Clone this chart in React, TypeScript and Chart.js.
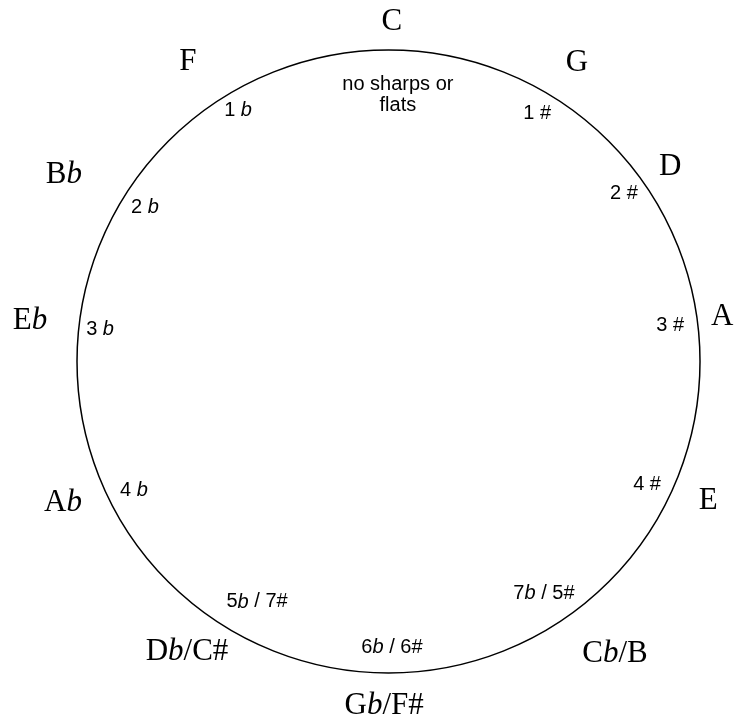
import React, { useEffect, useRef } from "react";
import { Chart, registerables } from "chart.js";

Chart.register(...registerables);

// Circle of fifths: unit circle, centre (0,0), radius 1
const CIRCLE_RADIUS = 1;

// Outer labels: key names (segments between * are italic)
const keyNames = ["C", "G", "D", "A", "E", "C*b*/B", "G*b*/F#", "D*b*/C#", "A*b*", "E*b*", "B*b*", "F"];
const keyX = [0.011, 0.605, 0.904, 1.071, 1.026, 0.727, -0.014, -0.647, -1.045, -1.151, -1.042, -0.644];
const keyY = [1.09, 0.958, 0.624, 0.143, -0.448, -0.939, -1.106, -0.933, -0.454, 0.13, 0.599, 0.961];

// Inner labels: number of sharps / flats
const accidentalLabels = [
  "no sharps or\nflats",
  "1 #",
  "2 #",
  "3 #",
  "4 #",
  "7*b* / 5#",
  "6*b* / 6#",
  "5*b* / 7#",
  "4 *b*",
  "3 *b*",
  "2 *b*",
  "1 *b*",
];
const accX = [0.03, 0.477, 0.756, 0.904, 0.83, 0.499, 0.011, -0.422, -0.817, -0.926, -0.782, -0.483];
const accY = [0.856, 0.795, 0.538, 0.117, -0.396, -0.746, -0.917, -0.772, -0.413, 0.104, 0.496, 0.807];

const SERIF = '"Liberation Serif", "Times New Roman", serif';
const SANS = '"Liberation Sans", Arial, sans-serif';

function drawRich(ctx: CanvasRenderingContext2D, text: string, cx: number, cy: number, size: number, family: string) {
  const lines = text.split("\n");
  const lh = size * 1.08;
  const startY = cy - ((lines.length - 1) * lh) / 2;
  lines.forEach((line, li) => {
    const segs = line.split("*");
    const fonts = segs.map((_, i) => (i % 2 === 1 ? `italic ${size}px ${family}` : `${size}px ${family}`));
    let total = 0;
    segs.forEach((s, i) => {
      ctx.font = fonts[i];
      total += ctx.measureText(s).width;
    });
    let x = cx - total / 2;
    const y = startY + li * lh;
    segs.forEach((s, i) => {
      ctx.font = fonts[i];
      ctx.fillText(s, x, y);
      x += ctx.measureText(s).width;
    });
  });
}

const circlePlugin = {
  id: "circleOfFifths",
  beforeDatasetsDraw(chart: any) {
    const { ctx, scales } = chart;
    const xs = scales.x;
    const ys = scales.y;
    const cx = xs.getPixelForValue(0);
    const cy = ys.getPixelForValue(0);
    const rx = xs.getPixelForValue(CIRCLE_RADIUS) - cx;
    const ry = cy - ys.getPixelForValue(CIRCLE_RADIUS);
    ctx.save();
    ctx.beginPath();
    ctx.ellipse(cx, cy, rx, ry, 0, 0, Math.PI * 2);
    ctx.lineWidth = 1.5;
    ctx.strokeStyle = "#000";
    ctx.stroke();
    ctx.restore();
  },
  afterDatasetsDraw(chart: any) {
    const { ctx } = chart;
    ctx.save();
    ctx.fillStyle = "#000";
    ctx.textAlign = "left";
    ctx.textBaseline = "middle";
    chart.data.datasets.forEach((ds: any, di: number) => {
      const meta = chart.getDatasetMeta(di);
      meta.data.forEach((pt: any, i: number) => {
        const label = ds.labelsText[i];
        drawRich(ctx, label, pt.x, pt.y, ds.fontSize, ds.fontFamily);
      });
    });
    ctx.restore();
  },
};

export default function App() {
  const canvasRef = useRef<HTMLCanvasElement | null>(null);

  useEffect(() => {
    if (!canvasRef.current) return;
    const chart = new Chart(canvasRef.current, {
      type: "scatter",
      data: {
        datasets: [
          {
            label: "keys",
            data: keyNames.map((_, i) => ({ x: keyX[i], y: keyY[i] })),
            pointRadius: 0,
            labelsText: keyNames,
            fontSize: 31,
            fontFamily: SERIF,
          } as any,
          {
            label: "accidentals",
            data: accidentalLabels.map((_, i) => ({ x: accX[i], y: accY[i] })),
            pointRadius: 0,
            labelsText: accidentalLabels,
            fontSize: 20,
            fontFamily: SANS,
          } as any,
        ],
      },
      options: {
        animation: false,
        responsive: true,
        maintainAspectRatio: false,
        layout: { padding: 0 },
        plugins: { legend: { display: false }, tooltip: { enabled: false } },
        scales: {
          x: { type: "linear", display: false, min: -1.2472, max: 1.1091 },
          y: { type: "linear", display: false, min: -1.1573, max: 1.1605 },
        },
      },
      plugins: [circlePlugin],
    });
    return () => chart.destroy();
  }, []);

  return (
    <div style={{ position: "absolute", left: 0, top: 0, width: 734, height: 722, background: "#fff" }}>
      <canvas ref={canvasRef} />
    </div>
  );
}
